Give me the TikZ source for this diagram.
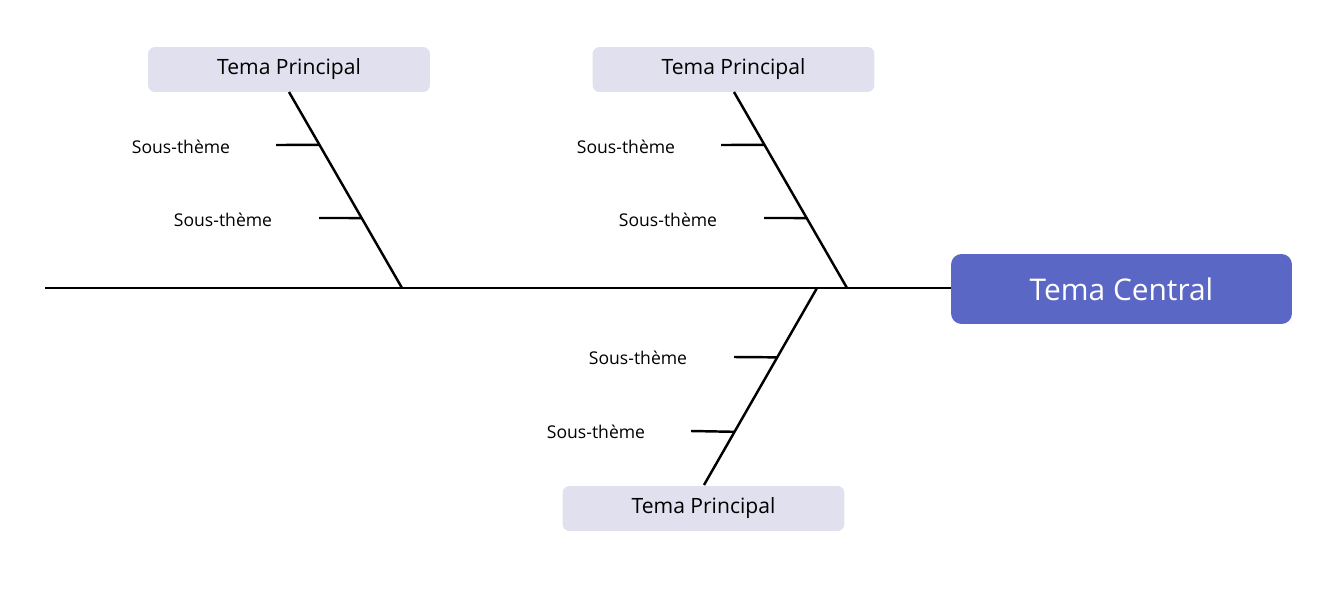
\documentclass[tikz,border=0pt]{standalone}
\usepackage{fontspec}
\setmainfont{Open Sans}
\usetikzlibrary{calc,positioning}
\definecolor{central}{RGB}{91,103,196}
\definecolor{mainbox}{RGB}{224,224,238}
\begin{document}
\begin{tikzpicture}[x=0.02cm,y=-0.02cm,
    bone/.style={line width=1.4pt},
    topic/.style={fill=mainbox, rounded corners=4pt, minimum width=5.64cm, minimum height=0.9cm, font=\fontsize{12}{14}\selectfont},
    subtopic/.style={font=\fontsize{10}{12}\selectfont, inner sep=1pt}]
  \useasboundingbox (0,0) rectangle (1338,591);
  % central topic and spine
  \node[fill=central, rounded corners=6pt, minimum width=6.82cm, minimum height=1.4cm,
        text=white, font=\fontsize{17}{20}\selectfont] (central) at (1121.5,289) {Tema Central};
  \coordinate (tail) at (45,288);
  \draw[bone] (tail) -- (central.west |- tail);
  % main topics
  \node[topic] (t1) at (289,69.5) {Tema Principal};
  \node[topic] (t2) at (733.5,69.5) {Tema Principal};
  \node[topic] (t3) at (703.5,508.5) {Tema Principal};
  \coordinate (j1) at (402,288);
  \coordinate (j2) at (847,288);
  \coordinate (j3) at (817,288);
  \draw[bone] (289,92) -- (j1);
  \draw[bone] (734,92) -- (j2);
  \draw[bone] (j3) -- (704,485);
  % sub topics
  \node[subtopic] (s11) at (181,147) {Sous-thème};
  \node[subtopic] (s12) at (223,220) {Sous-thème};
  \node[subtopic] (s21) at (626,147) {Sous-thème};
  \node[subtopic] (s22) at (668,220) {Sous-thème};
  \node[subtopic] (s31) at (638,358) {Sous-thème};
  \node[subtopic] (s32) at (596,432) {Sous-thème};
  \draw[bone] (276,145) coordinate (a11) -- ($(289,92)!0.27!(j1)$);
  \draw[bone] (319,218) coordinate (a12) -- ($(289,92)!0.643!(j1)$);
  \draw[bone] (721,145) coordinate (a21) -- ($(734,92)!0.27!(j2)$);
  \draw[bone] (764,218) coordinate (a22) -- ($(734,92)!0.643!(j2)$);
  \draw[bone] (734,357) coordinate (a31) -- ($(j3)!0.352!(704,485)$);
  \draw[bone] (691,431) coordinate (a32) -- ($(j3)!0.73!(704,485)$);
\end{tikzpicture}
\end{document}
